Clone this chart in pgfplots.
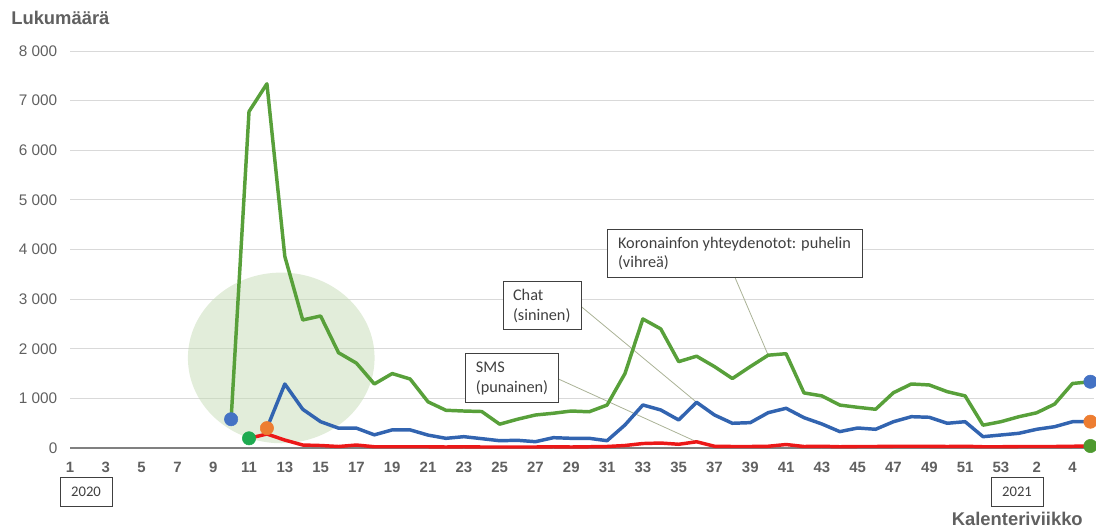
\documentclass[border=0pt]{standalone}
\usepackage{fontspec}
\setmainfont{Liberation Sans}
\newfontfamily\calibri{Carlito}
\usepackage{pgfplots}
\pgfplotsset{compat=1.18}
\definecolor{gline}{RGB}{88,160,58}
\definecolor{bline}{RGB}{50,100,176}
\definecolor{rline}{RGB}{236,24,24}
\definecolor{dblue}{RGB}{68,114,196}
\definecolor{dorange}{RGB}{237,125,49}
\definecolor{dgreenA}{RGB}{30,170,80}
\definecolor{dgreenB}{RGB}{78,154,47}
\definecolor{txt}{RGB}{96,96,96}
\definecolor{boxtxt}{RGB}{64,64,64}
\definecolor{gridc}{RGB}{217,217,217}
\definecolor{zeroc}{RGB}{128,128,128}
\definecolor{ellc}{RGB}{197,219,181}
\definecolor{leader}{RGB}{170,178,150}

\pgfplotstableread{
x y
10 580
11 6780
12 7340
13 3860
14 2580
15 2660
16 1920
17 1710
18 1290
19 1500
20 1390
21 930
22 760
23 745
24 735
25 480
26 580
27 665
28 700
29 745
30 730
31 865
32 1500
33 2600
34 2400
35 1740
36 1850
37 1640
38 1400
39 1640
40 1870
41 1900
42 1110
43 1050
44 865
45 820
46 780
47 1115
48 1290
49 1270
50 1135
51 1050
52 460
53 530
54 630
55 710
56 885
57 1300
58 1335
}\puhelin

\pgfplotstableread{
x y
12 400
13 1290
14 780
15 530
16 400
17 400
18 265
19 365
20 365
21 260
22 195
23 228
24 188
25 147
26 155
27 127
28 208
29 195
30 195
31 147
32 464
33 867
34 766
35 565
36 921
37 665
38 498
39 511
40 712
41 800
42 611
43 484
44 330
45 403
46 377
47 530
48 631
49 619
50 498
51 530
52 228
53 262
54 296
55 377
56 429
57 530
58 530
}\chat

\pgfplotstableread{
x y
11 195
12 282
13 160
14 60
15 50
16 30
17 60
18 25
19 25
20 25
21 25
22 20
23 25
24 20
25 20
26 20
27 20
28 25
29 20
30 25
31 30
32 50
33 90
34 100
35 75
36 125
37 35
38 30
39 30
40 35
41 70
42 30
43 35
44 25
45 30
46 30
47 35
48 35
49 35
50 30
51 35
52 25
53 25
54 30
55 30
56 30
57 35
58 40
}\sms

\begin{document}
\begin{tikzpicture}
\useasboundingbox (0,0) rectangle (822pt,396pt);
\begin{axis}[
  at={(52.5pt,60pt)}, anchor=south west,
  scale only axis, width=768pt, height=297.75pt,
  xmin=1, xmax=58.2, ymin=0, ymax=8000,
  axis line style={draw=none},
  major tick length=0pt,
  clip=false,
  ymajorgrids, grid style={gridc, line width=0.75pt},
  ytick={0,1000,...,8000},
  yticklabels={0,1 000,2 000,3 000,4 000,5 000,6 000,7 000,8 000},
  yticklabel style={font=\fontsize{11.5}{13}\selectfont, text=txt, xshift=-6pt},
  xtick={1,3,...,57},
  xticklabels={1,3,5,7,9,11,13,15,17,19,21,23,25,27,29,31,33,35,37,39,41,43,45,47,49,51,53,2,4},
  xticklabel style={font=\fontsize{11.2}{13}\selectfont\bfseries, text=txt, yshift=-7pt},
]
\fill[ellc, fill opacity=0.5] (axis cs:12.8,1815) ellipse [x radius=70pt, y radius=64pt];
\draw[zeroc, line width=1.1pt] (axis cs:1,0) -- (axis cs:58.2,0);
\draw[leader, line width=0.6pt] (axis cs:38.15,3433) -- (axis cs:40,1870);
\draw[leader, line width=0.6pt] (axis cs:29.58,2843) -- (axis cs:36,921);
\draw[leader, line width=0.6pt] (axis cs:28.28,1391) -- (axis cs:36,125);
\addplot[rline, line width=2.6pt, line join=round, no marks] table {\sms};
\addplot[bline, line width=2.6pt, line join=round, no marks] table {\chat};
\addplot[gline, line width=2.6pt, line join=round, no marks] table {\puhelin};
\addplot[only marks, mark=*, mark size=5pt, color=dblue] coordinates {(10,580) (58,1335)};
\addplot[only marks, mark=*, mark size=5pt, color=dorange] coordinates {(12,400) (58,530)};
\addplot[only marks, mark=*, mark size=5pt, color=dgreenA] coordinates {(11,195)};
\addplot[only marks, mark=*, mark size=5pt, color=dgreenB] coordinates {(58,40)};
\draw[boxtxt, fill=white, line width=0.75pt] (axis cs:31.04,4409) rectangle (axis cs:45.25,3433);
\node[anchor=west, align=left, inner xsep=7.5pt, inner ysep=0pt, text=boxtxt, font=\calibri\fontsize{12.2}{14.6}\selectfont] at (axis cs:31.04,3921) {Koronainfon yhteydenotot: puhelin\\(vihreä)};
\draw[boxtxt, fill=white, line width=0.75pt] (axis cs:25.19,3347) rectangle (axis cs:29.55,2379);
\node[anchor=west, align=left, inner xsep=7.3pt, inner ysep=0pt, text=boxtxt, font=\calibri\fontsize{12.2}{14.6}\selectfont] at (axis cs:25.19,2863) {Chat\\(sininen)};
\draw[boxtxt, fill=white, line width=0.75pt] (axis cs:23.1,1895) rectangle (axis cs:28.28,913);
\node[anchor=west, align=left, inner xsep=7.5pt, inner ysep=0pt, text=boxtxt, font=\calibri\fontsize{12.2}{14.6}\selectfont] at (axis cs:23.1,1404) {SMS\\(punainen)};
\end{axis}
\node[anchor=base west, inner sep=0pt, text=txt, font=\fontsize{13.8}{16}\selectfont\bfseries] at (8.25pt,377.25pt) {Lukumäärä};
\node[anchor=base east, inner sep=0pt, text=txt, font=\fontsize{13.8}{16}\selectfont\bfseries] at (812.25pt,1.5pt) {Kalenteriviikko};
\draw[boxtxt, line width=0.75pt, fill=white] (45pt,16.3pt) rectangle (84pt,38.1pt);
\node[text=boxtxt, font=\calibri\fontsize{11}{13}\selectfont] at (64.5pt,27.2pt) {2020};
\draw[boxtxt, line width=0.75pt, fill=white] (743.25pt,16.3pt) rectangle (782.25pt,38.1pt);
\node[text=boxtxt, font=\calibri\fontsize{11}{13}\selectfont] at (762.75pt,27.2pt) {2021};
\end{tikzpicture}
\end{document}
